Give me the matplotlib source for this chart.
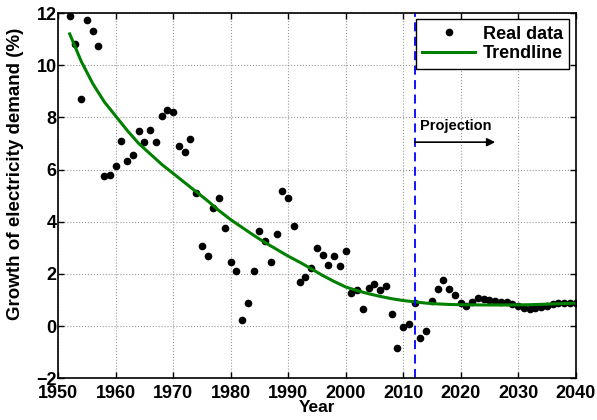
import numpy as np
import matplotlib
matplotlib.use("Agg")
import matplotlib.pyplot as plt

plt.rcParams['font.family'] = ['Liberation Sans', 'DejaVu Sans']
plt.rcParams['font.weight'] = 'bold'

# Real data (annual growth, %)
years = np.arange(1952, 2041)
growth = [11.87, 10.80, 8.71, 11.74, 11.31, 10.73, 5.77, 5.80, 6.13, 7.10,
          6.34, 6.57, 7.48, 7.05, 7.53, 7.06, 8.04, 8.27, 8.21, 6.90,
          6.69, 7.16, 5.10, 3.07, 2.70, 4.54, 4.92, 3.75, 2.45, 2.10,
          0.25, 0.89, 2.12, 3.66, 3.28, 2.45, 3.53, 5.17, 4.92, 3.84,
          1.68, 1.89, 2.21, 2.98, 2.74, 2.33, 2.68, 2.29, 2.86, 1.26,
          1.40, 0.64, 1.47, 1.63, 1.38, 1.54, 0.46, -0.83, -0.04, 0.08,
          0.89, -0.47, -0.20, 0.96, 1.43, 1.77, 1.44, 1.19, 0.90, 0.79,
          0.92, 1.06, 1.05, 1.01, 0.96, 0.94, 0.92, 0.84, 0.76, 0.70,
          0.66, 0.70, 0.75, 0.79, 0.83, 0.87, 0.89, 0.90, 0.88]

# Trendline
trend_years = [1952, 1954, 1956, 1958, 1960, 1962, 1964, 1966, 1968, 1970,
               1972, 1974, 1976, 1978, 1980, 1982, 1984, 1986, 1988, 1990,
               1992, 1994, 1996, 1998, 2000, 2002, 2004, 2006, 2008, 2010,
               2012, 2014, 2016, 2018, 2020, 2024, 2028, 2032, 2036, 2040]
trend = [11.2, 10.15, 9.3, 8.6, 8.05, 7.5, 7.0, 6.6, 6.2, 5.85,
         5.5, 5.15, 4.8, 4.42, 4.08, 3.78, 3.48, 3.2, 2.94, 2.68,
         2.45, 2.2, 1.94, 1.71, 1.5, 1.36, 1.24, 1.14, 1.05, 0.98,
         0.93, 0.88, 0.85, 0.83, 0.82, 0.81, 0.81, 0.82, 0.85, 0.88]

fig = plt.figure(figsize=(5.97, 4.2), dpi=100)
ax = fig.add_axes([0.0975, 0.0993, 0.8668, 0.8697])

ax.plot(years, growth, 'k.', markersize=9, label='Real data')
ax.plot(trend_years, trend, color=(0, 0.5, 0), linewidth=2.2, label='Trendline')
ax.axvline(2012, color='b', linestyle='--', linewidth=1.3, dashes=(5, 3))

ax.annotate('', xy=(2026, 7.05), xytext=(2012, 7.05),
            arrowprops=dict(arrowstyle='-|>', color='k', lw=1.2,
                            mutation_scale=12, shrinkA=0, shrinkB=0))
ax.text(2013, 7.4, 'Projection', fontsize=10.5, fontweight='bold', va='bottom')

ax.set_xlim(1950, 2040)
ax.set_ylim(-2, 12)
ax.set_xticks(np.arange(1950, 2041, 10))
ax.set_yticks(np.arange(-2, 13, 2))
ax.tick_params(direction='in', top=True, right=True, labelsize=13, width=1, length=4)
ax.tick_params(axis='x', pad=5)
ax.tick_params(axis='y', pad=1)
for lab in ax.get_xticklabels() + ax.get_yticklabels():
    lab.set_fontweight('bold')
ax.grid(True, linestyle=':', color='#999999', linewidth=0.8)
for s in ax.spines.values():
    s.set_linewidth(1.2)

ax.set_xlabel('Year', fontsize=12.5, fontweight='bold', labelpad=-1.5)
ax.set_ylabel('Growth of electricity demand (%)', fontsize=13.5, fontweight='bold')
ax.yaxis.set_label_coords(-0.066, 0.56)

leg = ax.legend(loc='upper right', fontsize=13, frameon=True, fancybox=False,
                edgecolor='k', framealpha=1, borderpad=0.35, handlelength=2.9,
                labelspacing=0.15, borderaxespad=0.35, handletextpad=0.45)
leg.get_frame().set_linewidth(1.0)
for t in leg.get_texts():
    t.set_fontweight('bold')

fig.savefig('out.png', dpi=100)
